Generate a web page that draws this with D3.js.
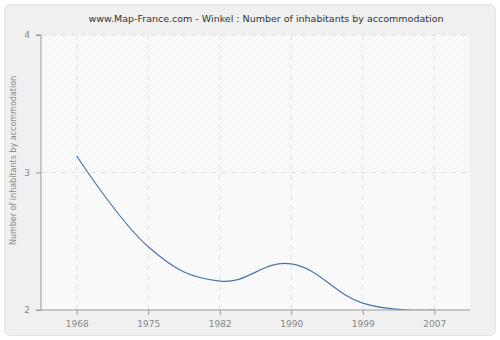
<!DOCTYPE html>
<html><head><meta charset="utf-8">
<script src="https://cdn.jsdelivr.net/npm/d3@7/dist/d3.min.js"></script>
<style>body{margin:0;background:#fff}</style>
</head><body>
<script>
const years = ["1968","1975","1982","1990","1999","2007"];
const values = [3.12, 2.46, 2.21, 2.335, 2.05, 2.0];
const yTicks = [2, 3, 4];
const title = "www.Map-France.com - Winkel : Number of inhabitants by accommodation";
const yLabel = "Number of inhabitants by accommodation";

// Spline curve: control points on a line through each point (smoothing 1.5)
function SplineCurve(context) { this._context = context; }
SplineCurve.prototype = {
  areaStart() { this._line = 0; }, areaEnd() { this._line = NaN; },
  lineStart() { this._px = []; this._py = []; },
  point(x, y) { this._px.push(+x); this._py.push(+y); },
  lineEnd() {
    const X = this._px, Y = this._py, n = X.length, c = this._context, s = 1.5, den = s + 1;
    if (!n) return;
    const L = [], R = [];
    for (let i = 0; i < n; i++) {
      if (i === 0 || i === n - 1) { L[i] = [X[i], Y[i]]; R[i] = [X[i], Y[i]]; continue; }
      let lx = (s * X[i] + X[i-1]) / den, ly = (s * Y[i] + Y[i-1]) / den;
      let rx = (s * X[i] + X[i+1]) / den, ry = (s * Y[i] + Y[i+1]) / den;
      const corr = ((ry - ly) * (rx - X[i])) / (rx - lx) + Y[i] - ry;
      ly += corr; ry += corr;
      L[i] = [lx, ly]; R[i] = [rx, ry];
    }
    c.moveTo(X[0], Y[0]);
    for (let i = 1; i < n; i++) c.bezierCurveTo(R[i-1][0], R[i-1][1], L[i][0], L[i][1], X[i], Y[i]);
  }
};
const curveSpline = ctx => new SplineCurve(ctx);

const W = 500, H = 340;
const m = {l: 41, r: 30, t: 35, b: 30};
const svg = d3.select("body").append("svg").attr("width", W).attr("height", H)
  .style("font-family", "DejaVu Sans, Verdana, sans-serif");

svg.append("rect").attr("x", 4.5).attr("y", 4.5).attr("width", W - 9).attr("height", H - 9)
  .attr("rx", 6).attr("fill", "#f0f0f0").attr("stroke", "#e4e4e4");

const defs = svg.append("defs");
const p1 = defs.append("pattern").attr("id", "hatch").attr("patternUnits", "userSpaceOnUse")
  .attr("width", 4).attr("height", 4);
p1.append("rect").attr("width", 4).attr("height", 4).attr("fill", "#fcfcfc");
p1.append("path").attr("d", "M-1,1 l2,-2 M0,4 l4,-4 M3,5 l2,-2").attr("stroke", "#ebebeb").attr("stroke-width", 0.8);
const p2 = defs.append("pattern").attr("id", "hatch2").attr("patternUnits", "userSpaceOnUse")
  .attr("width", 4).attr("height", 4);
p2.append("rect").attr("width", 4).attr("height", 4).attr("fill", "#fbfbfb");
p2.append("path").attr("d", "M-1,1 l2,-2 M0,4 l4,-4 M3,5 l2,-2").attr("stroke", "#f2f2f2").attr("stroke-width", 0.8);
defs.append("clipPath").attr("id", "clip").append("rect")
  .attr("x", m.l).attr("y", m.t).attr("width", W - m.l - m.r).attr("height", H - m.t - m.b);

const x = d3.scalePoint().domain(years).range([m.l, W - m.r]).padding(0.5);
const y = d3.scaleLinear().domain([2, 4]).range([H - m.b, m.t]);

svg.append("rect").attr("x", m.l).attr("y", y(4)).attr("width", W - m.l - m.r).attr("height", y(3) - y(4))
  .attr("fill", "url(#hatch)");
svg.append("rect").attr("x", m.l).attr("y", y(3)).attr("width", W - m.l - m.r).attr("height", y(2) - y(3))
  .attr("fill", "url(#hatch2)");

// grid
svg.append("g").selectAll("line").data(years).join("line")
  .attr("x1", d => x(d)).attr("x2", d => x(d)).attr("y1", m.t).attr("y2", H - m.b)
  .attr("stroke", "#e0e0e0").attr("stroke-dasharray", "5,5");
svg.append("g").selectAll("line").data(yTicks.slice(1)).join("line")
  .attr("x1", m.l).attr("x2", W - m.r).attr("y1", d => y(d)).attr("y2", d => y(d))
  .attr("stroke", "#e0e0e0").attr("stroke-dasharray", "5,5");

// line
const line = d3.line().x((d, i) => x(years[i])).y(d => y(d)).curve(curveSpline);
svg.append("path").datum(values).attr("d", line).attr("fill", "none")
  .attr("stroke", "#4a76a8").attr("stroke-width", 1.2).attr("clip-path", "url(#clip)");

// axes
const xa = svg.append("g").attr("transform", `translate(0,${H - m.b})`)
  .call(d3.axisBottom(x).tickSize(5).tickPadding(6));
const ya = svg.append("g").attr("transform", `translate(${m.l},0)`)
  .call(d3.axisLeft(y).tickValues(yTicks).tickFormat(d3.format("d")).tickSize(5).tickPadding(6));
[xa, ya].forEach(g => {
  g.selectAll(".domain").attr("stroke", "#999");
  g.selectAll(".tick line").attr("stroke", "#999");
  g.selectAll("text").attr("fill", "#888").style("font-size", "9px").style("font-family", "DejaVu Sans, sans-serif");
});
ya.select(".domain").attr("d", `M-5,${y(4)}H0V${y(2)}H-5`);
xa.select(".domain").attr("d", `M${m.l},0H${W - m.r}`);

svg.append("text").attr("x", 266).attr("y", 22).attr("text-anchor", "middle")
  .style("font-size", "9.5px").attr("fill", "#333").text(title);
svg.append("text").attr("transform", `translate(16,${(m.t + H - m.b) / 2 - 12}) rotate(-90)`)
  .attr("text-anchor", "middle").style("font-size", "8px").attr("fill", "#888").text(yLabel);
</script>
</body></html>
